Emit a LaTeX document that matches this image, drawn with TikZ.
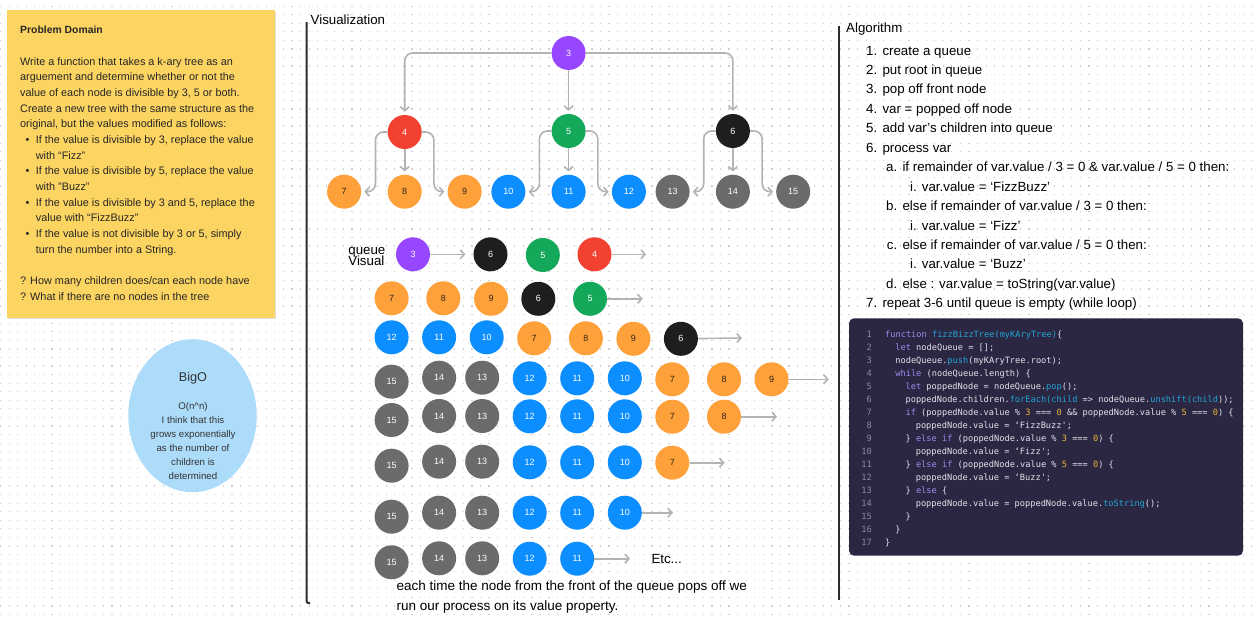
\documentclass[tikz,border=0pt]{standalone}
\usepackage{fontspec}
\setmainfont{Liberation Sans}
\setmonofont{DejaVu Sans Mono}
\usepackage{tikz}
\usetikzlibrary{arrows.meta, positioning, shapes.geometric}

\definecolor{cSticky}{HTML}{FCD462}
\definecolor{cBigO}{HTML}{ADDCFB}
\definecolor{cDot}{HTML}{CFCFCF}
\definecolor{cLine}{HTML}{2C2C2C}
\definecolor{cArrow}{HTML}{B3B3B3}
\definecolor{cPurple}{HTML}{9747FF}
\definecolor{cRed}{HTML}{F24130}
\definecolor{cGreen}{HTML}{14A85A}
\definecolor{cBlack}{HTML}{1E1E1E}
\definecolor{cOrange}{HTML}{FFA13B}
\definecolor{cBlue}{HTML}{0D8EFF}
\definecolor{cGray}{HTML}{6B6B6B}
\definecolor{cDark}{HTML}{2E2418}
\definecolor{cCode}{HTML}{2B2641}
\definecolor{cCodeTxt}{HTML}{E4E2EC}
\definecolor{cLineNo}{HTML}{8C89A0}
\definecolor{cKey}{HTML}{A08CF0}
\definecolor{cFun}{HTML}{22A6D8}
\definecolor{cNum}{HTML}{E6B43C}

% node colours by value
\colorlet{c3}{cPurple}\colorlet{t3}{white}
\colorlet{c4}{cRed}\colorlet{t4}{white}
\colorlet{c5}{cGreen}\colorlet{t5}{white}
\colorlet{c6}{cBlack}\colorlet{t6}{white}
\colorlet{c7}{cOrange}\colorlet{t7}{cDark}
\colorlet{c8}{cOrange}\colorlet{t8}{cDark}
\colorlet{c9}{cOrange}\colorlet{t9}{cDark}
\colorlet{c10}{cBlue}\colorlet{t10}{white}
\colorlet{c11}{cBlue}\colorlet{t11}{white}
\colorlet{c12}{cBlue}\colorlet{t12}{white}
\colorlet{c13}{cGray}\colorlet{t13}{white}
\colorlet{c14}{cGray}\colorlet{t14}{white}
\colorlet{c15}{cGray}\colorlet{t15}{white}

\newcommand{\cdkw}[1]{\textcolor{cKey}{#1}}
\newcommand{\cdfn}[1]{\textcolor{cFun}{#1}}
\newcommand{\cdnum}[1]{\textcolor{cNum}{#1}}

\begin{document}
\begin{tikzpicture}[
  x=1pt, y=-1pt,
  tnode/.style={circle, minimum size=34pt, inner sep=0pt, font=\fontsize{9}{9}\selectfont},
  vnode/.style={tnode, fill=c#1, text=t#1},
  conn/.style={draw=cArrow, line width=1.6pt, rounded corners=8pt, shorten >=3pt,
    -{Straight Barb[length=4pt, width=9pt]}},
  qarrow/.style={draw=cArrow, line width=1.6pt, -{Straight Barb[length=4pt, width=9pt]}},
  heading/.style={font=\fontsize{13.3}{16}\selectfont, anchor=base west, inner sep=0pt},
  pd/.style={font=\fontsize{10.85}{12}\selectfont, text=black!85, anchor=base west, inner sep=0pt},
  bo/.style={font=\fontsize{9.7}{12}\selectfont, text=black!80, anchor=base, inner sep=0pt},
  algtext/.style={font=\fontsize{13.3}{16}\selectfont, anchor=base west, inner sep=0pt},
  code/.style={font=\ttfamily\fontsize{8.65}{11}\selectfont, text=cCodeTxt, anchor=base west, inner sep=0pt},
  lnum/.style={font=\ttfamily\fontsize{8.65}{11}\selectfont, text=cLineNo, anchor=base east, inner sep=0pt},
  sectline/.style={draw=cLine, line width=2pt, rounded corners=2pt},
  griddot/.style={draw=cDot, line width=1.2pt, dash pattern=on 1.2pt off 7.37pt},
]

% --- Canvas ---
\fill[white] (0,0) rectangle (1253,621);
\useasboundingbox (0,0) rectangle (1253,621);
\foreach \j in {0,...,72}
  \draw[griddot] (0,6.1+8.57*\j) -- (1253,6.1+8.57*\j);

% --- Problem domain sticky ---
\fill[black, opacity=0.12] (8,11.5) rectangle (276,319);
\fill[cSticky] (7,10) rectangle (275,317.5);
\node[pd, font=\bfseries\fontsize{10.4}{12}\selectfont] (pdtitle) at (20,33.9) {Problem Domain};
\foreach \k/\x/\txt in {
  2/20/{Write a function that takes a k-ary tree as an},
  3/20/{arguement and determine whether or not the},
  4/20/{value of each node is divisible by 3, 5 or both.},
  5/20/{Create a new tree with the same structure as the},
  6/20/{original, but the values modified as follows:},
  7/35.7/{If the value is divisible by 3, replace the value},
  8/35.7/{with “Fizz”},
  9/35.7/{If the value is divisible by 5, replace the value},
  10/35.7/{with "Buzz"},
  11/35.7/{If the value is divisible by 3 and 5, replace the},
  12/35.7/{value with “FizzBuzz”},
  13/35.7/{If the value is not divisible by 3 or 5, simply},
  14/35.7/{turn the number into a String.},
  16/20/{? How many children does/can each node have},
  17/20/{? What if there are no nodes in the tree}}
  \node[pd] (pd\k) at (\x,33.9+15.67*\k) {\txt};
\foreach \k in {7,9,11,13}
  \node[pd] (bul\k) at (25.5,33.9+15.67*\k) {\textbullet};

% --- BigO ---
\node[ellipse, fill=cBigO, minimum width=128.4pt, minimum height=153pt, inner sep=0pt] (bigo) at (192.5,415.7) {};
\node[bo, font=\fontsize{12.7}{14}\selectfont] (bigotitle) at (193,381.3) {BigO};
\foreach \k/\txt in {0/{O(n\textasciicircum n)}, 1/{I think that this}, 2/{grows exponentially},
  3/{as the number of}, 4/{children is}, 5/{determined}}
  \node[bo] (bo\k) at (193,409.5+13.9*\k) {\txt};

% --- Visualization ---
\draw[sectline] (306.5,22) -- (306.5,603) -- (310,603);
\node[heading] (vistitle) at (310.5,24.5) {Visualization};

% tree
\node[vnode=3] (t3) at (568.6,53) {3};
\node[vnode=4] (t4) at (404.7,132) {4};
\node[vnode=5] (t5) at (568.6,131) {5};
\node[vnode=6] (t6) at (732.9,131) {6};
\foreach \v/\x in {7/344.1, 8/404.7, 9/464.6, 10/508.4, 11/568.6, 12/628.9, 13/672.6, 14/732.9, 15/793.2}
  \node[vnode=\v] (t\v) at (\x,191.7) {\v};

\draw[conn] (t3.west) -| (t4.north);
\draw[conn] (t3.south) -- (t5.north);
\draw[conn] (t3.east) -| (t6.north);
\foreach \p/\a/\b/\c in {4/7/8/9, 5/10/11/12, 6/13/14/15} {
  \draw[conn] (t\p.west) -- ++(-12,0) |- (t\a.east);
  \draw[conn] (t\p.south) -- (t\b.north);
  \draw[conn] (t\p.east) -- ++(12,0) |- (t\c.west);
}

% queue visual
\node[heading] (qlabel) at (348.2,254.3) {queue};
\node[heading] (qlabelb) at (348.2,265.7) {Visual};

\foreach \v/\x/\y in {3/413/254.3, 6/490.5/254.3, 5/542.8/255, 4/594.5/254.3}
  \node[vnode=\v] (qa\v) at (\x,\y) {\v};
\foreach \v/\x/\y in {7/391.6/298.3, 8/443.3/298.3, 9/491.1/298.8, 6/538.3/298.8, 5/590/298.8}
  \node[vnode=\v] (qb\v) at (\x,\y) {\v};
\foreach \v/\x/\y in {12/391.6/337.3, 11/439.1/337.3, 10/486.7/337.3, 7/534.2/338.3, 8/585.9/338.3, 9/633.4/338.8, 6/680.9/338.8}
  \node[vnode=\v] (qc\v) at (\x,\y) {\v};
\foreach \v/\x/\y in {15/391.6/381.7, 14/439.1/377.7, 13/482.2/377.7, 12/529.7/378.3, 11/577.2/378.3, 10/624.8/378.3, 7/672.3/379.3, 8/724/379.3, 9/771.5/379.3}
  \node[vnode=\v] (qd\v) at (\x,\y) {\v};
\foreach \v/\x/\y in {15/391.6/420, 14/439.1/416, 13/482.2/416, 12/529.7/416.3, 11/577.2/416.3, 10/624.8/416.3, 7/672.3/416.7, 8/724/416.7}
  \node[vnode=\v] (qe\v) at (\x,\y) {\v};
\foreach \v/\x/\y in {15/391.6/465.7, 14/439.1/461.7, 13/482.2/461.7, 12/529.7/462.3, 11/577.2/462.3, 10/624.8/462.3, 7/672.3/462.7}
  \node[vnode=\v] (qf\v) at (\x,\y) {\v};
\foreach \v/\x/\y in {15/391.6/516.7, 14/439.1/512.7, 13/482.2/512.7, 12/529.7/512.7, 11/577.2/512.7, 10/624.8/512.7}
  \node[vnode=\v] (qg\v) at (\x,\y) {\v};
\foreach \v/\x/\y in {15/391.6/562.3, 14/439.1/558.3, 13/482.2/558.3, 12/529.7/558.7, 11/577.2/558.7}
  \node[vnode=\v] (qh\v) at (\x,\y) {\v};

\coordinate (ea) at (646.1,254.3);
\coordinate (eb) at (642.7,298.8);
\coordinate (ec) at (741.9,338);
\coordinate (ed) at (828.7,379.3);
\coordinate (ee) at (777,416.7);
\coordinate (ef) at (724.6,462.7);
\coordinate (eg) at (673,512.7);
\coordinate (eh) at (630,558.7);
\draw[qarrow, shorten >=8pt] (qa3) -- (qa6);
\draw[qarrow] (qa4) -- (ea);
\draw[qarrow] (qb5) -- (eb);
\draw[qarrow] (qc6) -- (ec);
\draw[qarrow] (qd9) -- (ed);
\draw[qarrow] (qe8) -- (ee);
\draw[qarrow] (qf7) -- (ef);
\draw[qarrow] (qg10) -- (eg);
\draw[qarrow] (qh11) -- (eh);
\node[heading] (etc) at (651.3,563.6) {Etc...};

\node[heading, font=\fontsize{13.5}{16}\selectfont] (note) at (396.4,590.7) {each time the node from the front of the queue pops off we};
\node[heading, font=\fontsize{13.5}{16}\selectfont] (noteb) at (396.4,610.7) {run our process on its value property.};

% --- Algorithm ---
\draw[sectline] (839,26) -- (839,600);
\node[heading] (algtitle) at (846,32) {Algorithm};
\foreach \k/\x/\lb/\txt in {
  0/882.3/1./{create a queue},
  1/882.3/2./{put root in queue},
  2/882.3/3./{pop off front node},
  3/882.3/4./{var = popped off node},
  4/882.3/5./{add var’s children into queue},
  5/882.3/6./{process var},
  6/902.3/a./{if remainder of var.value / 3 = 0 \& var.value / 5 = 0 then:},
  7/921.7/i./{var.value = ‘FizzBuzz’},
  8/902.3/b./{else if remainder of var.value / 3 = 0 then:},
  9/921.7/i./{var.value = ‘Fizz’},
  10/902.3/c./{else if remainder of var.value / 5 = 0 then:},
  11/921.7/i./{var.value = ‘Buzz’},
  12/902.3/d./{else : var.value = toString(var.value)},
  13/882.3/7./{repeat 3-6 until queue is empty (while loop)}} {
  \node[algtext] (alg\k) at (\x,55+19.45*\k) {\txt};
  \node[algtext, anchor=base east] (algn\k) at (\x-4.8,55+19.45*\k) {\lb};
}

% code
\fill[cCode, rounded corners=5pt] (849,318.3) rectangle (1243,555.7);
\foreach \n in {1,...,17}
  \node[lnum] (ln\n) at (872,337.5+13*\n-13) {\n};
\foreach \n/\k/\txt in {
  1/0/{\cdkw{function} \cdfn{fizzBizzTree(myKAryTree)}\{},
  2/2/{\cdkw{let} nodeQueue = [];},
  3/2/{nodeQueue.\cdfn{push}(myKAryTree.root);},
  4/2/{\cdkw{while} (nodeQueue.length) \{},
  5/4/{\cdkw{let} poppedNode = nodeQueue.\cdfn{pop}();},
  6/4/{poppedNode.children.\cdfn{forEach(child} => nodeQueue.\cdfn{unshift(child}));},
  7/4/{\cdkw{if} (poppedNode.value \% \cdnum{3} === \cdnum{0} \&\& poppedNode.value \% \cdnum{5} === \cdnum{0}) \{},
  8/6/{poppedNode.value = ‘FizzBuzz';},
  9/4/{\} \cdkw{else if} (poppedNode.value \% \cdnum{3} === \cdnum{0}) \{},
  10/6/{poppedNode.value = ‘Fizz';},
  11/4/{\} \cdkw{else if} (poppedNode.value \% \cdnum{5} === \cdnum{0}) \{},
  12/6/{poppedNode.value = ‘Buzz';},
  13/4/{\} \cdkw{else} \{},
  14/6/{poppedNode.value = poppedNode.value.\cdfn{toString}();},
  15/4/{\}},
  16/2/{\}},
  17/0/{\}}}
  \node[code] (cl\n) at (885+5.1*\k,337.5+13*\n-13) {\txt};

\end{tikzpicture}
\end{document}
